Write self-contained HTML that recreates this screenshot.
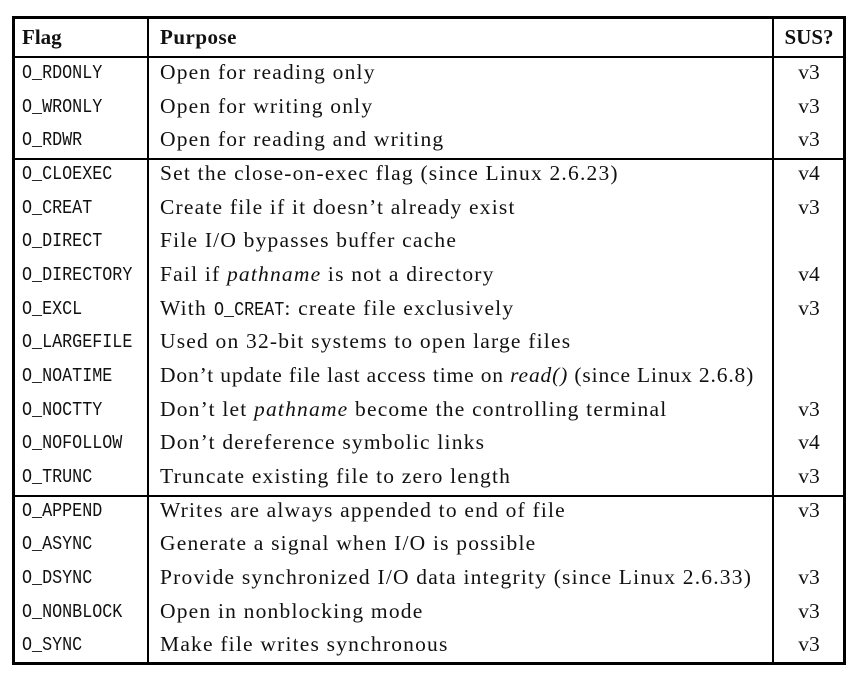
<!DOCTYPE html>
<html><head><meta charset="utf-8"><style>
body{margin:0;background:#fff;width:858px;height:678px;position:relative;overflow:hidden}
.b{position:absolute;background:#000}
.r{position:absolute;left:0;height:33.67px;line-height:33.67px;width:858px;font-family:"Liberation Serif",serif;font-size:21.5px;color:#111}
.f{position:absolute;left:22px;font-family:"Liberation Mono",monospace;font-size:19px;top:1px;transform:scaleX(0.88);transform-origin:0 50%}
.p{position:absolute;left:160px;white-space:nowrap;letter-spacing:1.2px}
.s{position:absolute;left:774px;width:70px;text-align:center}
.h{font-weight:bold;font-size:21px}
.h .p{letter-spacing:0.5px}
.m{display:inline-block;font-family:"Liberation Mono",monospace;font-size:19px;letter-spacing:0;transform:scaleX(0.88);transform-origin:0 50%;margin-right:-9px}
</style></head><body>
<div class="b" style="left:12px;top:16px;width:834px;height:3px"></div>
<div class="b" style="left:12px;top:662px;width:834px;height:3px"></div>
<div class="b" style="left:12px;top:16px;width:3px;height:649px"></div>
<div class="b" style="left:843px;top:16px;width:3px;height:649px"></div>
<div class="b" style="left:147px;top:16px;width:2px;height:649px"></div>
<div class="b" style="left:772px;top:16px;width:2px;height:649px"></div>
<div class="b" style="left:12px;top:56px;width:834px;height:2px"></div>
<div class="b" style="left:12px;top:158px;width:834px;height:1.5px"></div>
<div class="b" style="left:12px;top:495px;width:834px;height:1.5px"></div>
<div class="r h" style="top:19px;line-height:36px;height:36px"><span class="f" style="font-family:'Liberation Serif',serif;font-size:21px;top:0;transform:none">Flag</span><span class="p">Purpose</span><span class="s">SUS?</span></div>
<div class="r" style="top:56px"><span class="f">O_RDONLY</span><span class="p">Open for reading only</span><span class="s">v3</span></div>
<div class="r" style="top:89.7px"><span class="f">O_WRONLY</span><span class="p">Open for writing only</span><span class="s">v3</span></div>
<div class="r" style="top:123.3px"><span class="f">O_RDWR</span><span class="p">Open for reading and writing</span><span class="s">v3</span></div>
<div class="r" style="top:157px"><span class="f">O_CLOEXEC</span><span class="p">Set the close-on-exec flag (since Linux 2.6.23)</span><span class="s">v4</span></div>
<div class="r" style="top:190.7px"><span class="f">O_CREAT</span><span class="p">Create file if it doesn’t already exist</span><span class="s">v3</span></div>
<div class="r" style="top:224.3px"><span class="f">O_DIRECT</span><span class="p">File I/O bypasses buffer cache</span></div>
<div class="r" style="top:258px"><span class="f">O_DIRECTORY</span><span class="p">Fail if <i>pathname</i> is not a directory</span><span class="s">v4</span></div>
<div class="r" style="top:291.7px"><span class="f">O_EXCL</span><span class="p">With <span class="m">O_CREAT</span>: create file exclusively</span><span class="s">v3</span></div>
<div class="r" style="top:325.3px"><span class="f">O_LARGEFILE</span><span class="p">Used on 32-bit systems to open large files</span></div>
<div class="r" style="top:359px"><span class="f">O_NOATIME</span><span class="p" style="letter-spacing:0.85px">Don’t update file last access time on <i>read()</i> (since Linux 2.6.8)</span></div>
<div class="r" style="top:392.7px"><span class="f">O_NOCTTY</span><span class="p">Don’t let <i>pathname</i> become the controlling terminal</span><span class="s">v3</span></div>
<div class="r" style="top:426.3px"><span class="f">O_NOFOLLOW</span><span class="p">Don’t dereference symbolic links</span><span class="s">v4</span></div>
<div class="r" style="top:460px"><span class="f">O_TRUNC</span><span class="p">Truncate existing file to zero length</span><span class="s">v3</span></div>
<div class="r" style="top:493.7px"><span class="f">O_APPEND</span><span class="p">Writes are always appended to end of file</span><span class="s">v3</span></div>
<div class="r" style="top:527.3px"><span class="f">O_ASYNC</span><span class="p">Generate a signal when I/O is possible</span></div>
<div class="r" style="top:561px"><span class="f">O_DSYNC</span><span class="p">Provide synchronized I/O data integrity (since Linux 2.6.33)</span><span class="s">v3</span></div>
<div class="r" style="top:594.7px"><span class="f">O_NONBLOCK</span><span class="p">Open in nonblocking mode</span><span class="s">v3</span></div>
<div class="r" style="top:628.3px"><span class="f">O_SYNC</span><span class="p">Make file writes synchronous</span><span class="s">v3</span></div>
</body></html>
